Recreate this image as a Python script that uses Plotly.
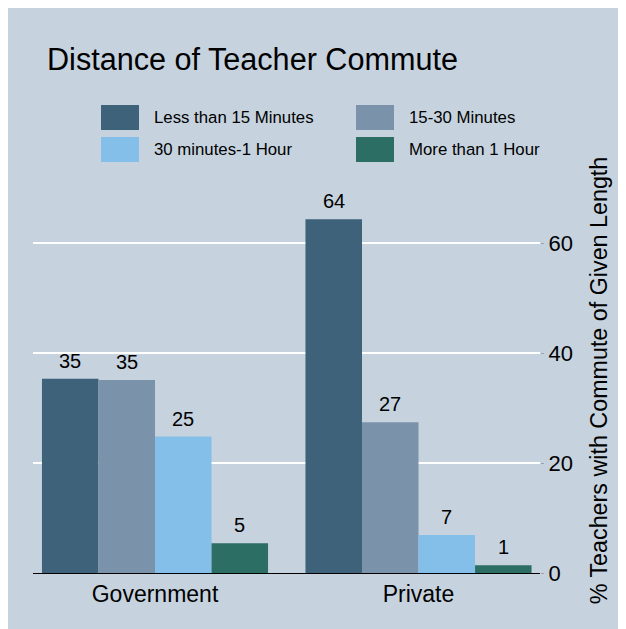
import plotly.graph_objects as go

categories = ["Government", "Private"]
series_names = ["Less than 15 Minutes", "15-30 Minutes", "30 minutes-1 Hour", "More than 1 Hour"]
less_15 = [35.3, 64.3]
min_15_30 = [35.1, 27.4]
min_30_60 = [24.8, 6.9]
more_60 = [5.4, 1.4]
series_values = [less_15, min_15_30, min_30_60, more_60]
colors = ["#3d6279", "#7b93aa", "#83bfe8", "#2d6e64"]
y_ticks = [0, 20, 40, 60]

# page is offset by the 8px body margin; figure runs past the window edge
OFF = 8
W, H = 650, 650
L, R, T, B = 33 - OFF, 540 - OFF, 188 - OFF, 573 - OFF
BG = "#c6d3df"
FONT = "Liberation Sans, Arial, sans-serif"


def px(x):
    return (x - OFF - L) / (R - L)


def py(y):
    return (B - (y - OFF)) / (B - T)


fig = go.Figure()
for name, vals, col in zip(series_names, series_values, colors):
    fig.add_trace(go.Bar(
        x=categories, y=vals, name=name,
        marker=dict(color=col, line=dict(width=0)),
        showlegend=False,
    ))

# value labels above bars
bar_px = 226 / len(series_names)
annotations = []
for i, vals in enumerate(series_values):
    shift = (i - (len(series_names) - 1) / 2) * bar_px
    for cat, v in zip(categories, vals):
        annotations.append(dict(x=cat, y=v, xref="x", yref="y", text=f"{v:.0f}",
                                showarrow=False, xanchor="center", yanchor="bottom",
                                xshift=shift, yshift=5,
                                font=dict(size=20, color="black", family=FONT)))

shapes = []
legend_pos = [(101, 105), (356, 105), (101, 137), (356, 137)]
for (x0, y0), name, col in zip(legend_pos, series_names, colors):
    shapes.append(dict(type="rect", xref="paper", yref="paper",
                       x0=px(x0), x1=px(x0 + 38), y0=py(y0 + 25), y1=py(y0),
                       fillcolor=col, line=dict(width=0)))
    annotations.append(dict(text=name, xref="paper", yref="paper",
                            x=px(x0 + 51), y=py(y0 + 12.5), xanchor="left", yanchor="middle",
                            showarrow=False, font=dict(size=16.8, color="black", family=FONT)))

fig.update_layout(
    width=W, height=H,
    margin=dict(l=L, r=W - R, t=T, b=H - B, autoexpand=False),
    paper_bgcolor=BG, plot_bgcolor="rgba(0,0,0,0)",
    barmode="group", bargap=0.142, bargroupgap=0,
    font=dict(family=FONT, color="black"),
    title=dict(text="Distance of Teacher Commute", x=px(47), xref="paper", xanchor="left",
               y=1 - (59 - OFF) / H, yref="container", yanchor="middle",
               font=dict(size=30.6, color="black", family=FONT)),
    shapes=shapes, annotations=annotations,
    xaxis=dict(range=[-0.463, 1.461], showline=True, linecolor="black", linewidth=1,
               showgrid=False, ticks="", tickfont=dict(size=23), fixedrange=True),
    yaxis=dict(side="right", range=[0, 70], tickvals=y_ticks, showgrid=True,
               gridcolor="white", gridwidth=1.5, zeroline=False, showline=False,
               ticks="outside", ticklen=3, tickcolor="#9aa5b1", tickfont=dict(size=22),
               title=dict(text="% Teachers with Commute of Given Length", font=dict(size=23.3), standoff=18)),
)

fig.write_html("out.html")
